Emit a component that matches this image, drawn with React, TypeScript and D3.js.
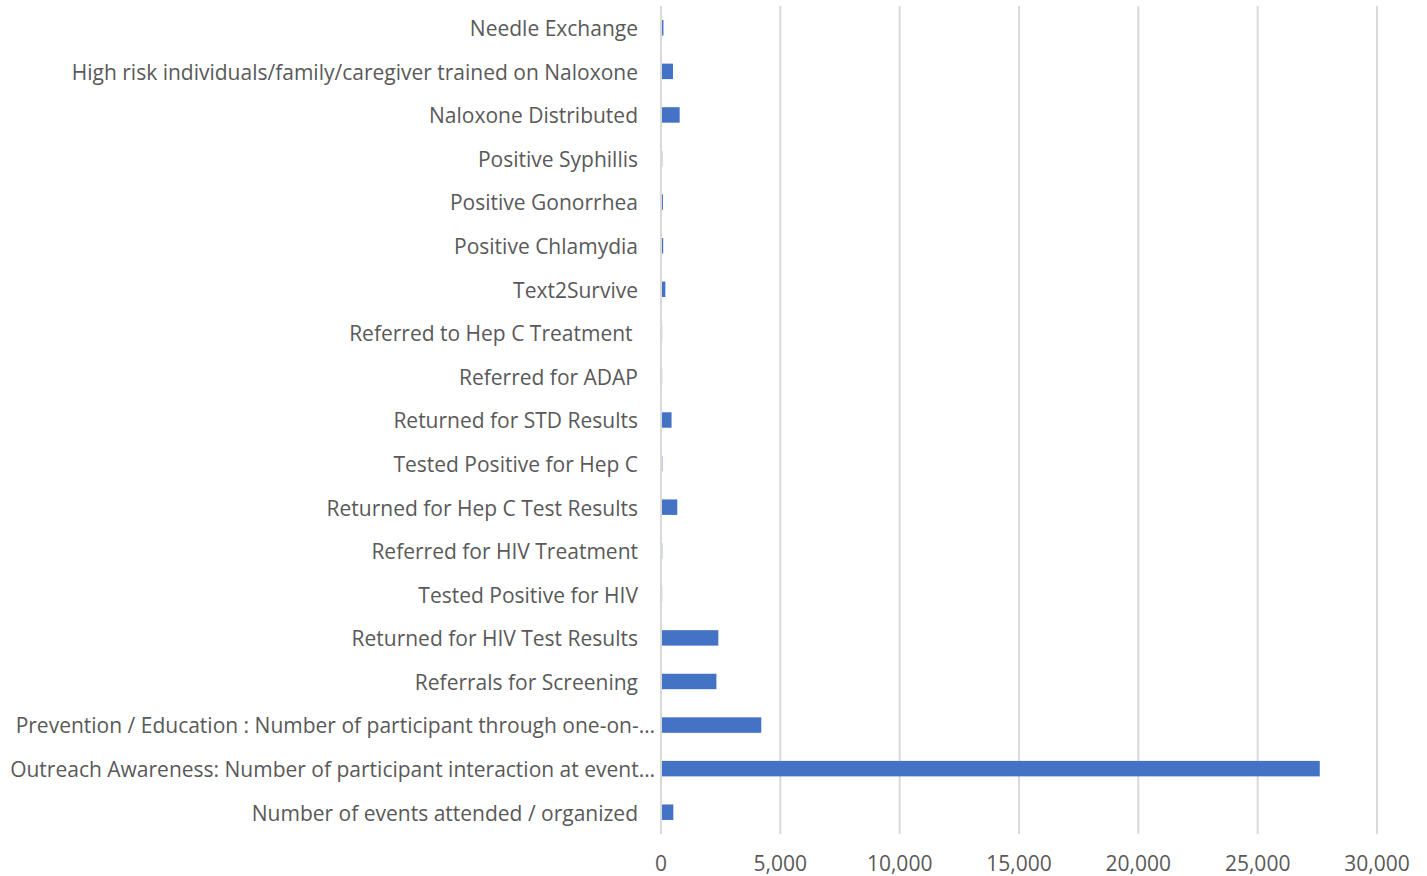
import React from "react";
import * as d3 from "d3";

const categories = [
  "Needle Exchange",
  "High risk individuals/family/caregiver trained on Naloxone",
  "Naloxone Distributed",
  "Positive Syphillis",
  "Positive Gonorrhea",
  "Positive Chlamydia",
  "Text2Survive",
  "Referred to Hep C Treatment ",
  "Referred for ADAP",
  "Returned for STD Results",
  "Tested Positive for Hep C",
  "Returned for Hep C Test Results",
  "Referred for HIV Treatment",
  "Tested Positive for HIV",
  "Returned for HIV Test Results",
  "Referrals for Screening",
  "Prevention / Education : Number of participant through one-on-…",
  "Outreach Awareness: Number of participant interaction at event…",
  "Number of events attended / organized",
];

const values = [
  60, 460, 740, 10, 40, 50, 140, 5, 5, 400, 15, 640, 10, 5, 2360, 2280, 4160, 27560, 475,
];

const xTicks = [0, 5000, 10000, 15000, 20000, 25000, 30000];

const W = 1427;
const H = 876;
const margin = { left: 661, right: 50, top: 6, bottom: 42 };

export default function App() {
  const x = d3
    .scaleLinear()
    .domain([0, 30000])
    .range([margin.left, W - margin.right]);
  const y = d3
    .scaleBand<string>()
    .domain(categories.map((_, i) => String(i)))
    .range([margin.top, H - margin.bottom])
    .paddingInner(0.645)
    .paddingOuter(0.3225);
  const fmt = d3.format(",");
  const font = "'Open Sans', 'Segoe UI', sans-serif";

  return (
    <svg
      width={W}
      height={H}
      style={{ position: "absolute", left: 0, top: 0, background: "#fff" }}
    >
      {xTicks.map((t) => (
        <line
          key={"g" + t}
          x1={x(t)}
          x2={x(t)}
          y1={margin.top}
          y2={H - margin.bottom}
          stroke="#d9d9d9"
          strokeWidth={2}
        />
      ))}
      {values.map((v, i) => (
        <rect
          key={"b" + i}
          x={x(0) + 1}
          y={y(String(i))!}
          width={Math.max(0, x(v) - x(0))}
          height={y.bandwidth()}
          fill="#4472C4"
        />
      ))}
      {categories.map((c, i) => (
        <text
          key={"l" + i}
          x={c.endsWith("…") ? 655 : 638}
          y={y(String(i))! + y.bandwidth() / 2 + 1}
          dy="0.35em"
          textAnchor="end"
          fontFamily={font}
          fontSize={21}
          fill="#595959"
          style={{ whiteSpace: "pre" }}
        >
          {c}
        </text>
      ))}
      {xTicks.map((t) => (
        <text
          key={"t" + t}
          x={x(t)}
          y={864}
          dy="0.35em"
          textAnchor="middle"
          fontFamily={font}
          fontSize={21}
          fill="#595959"
        >
          {fmt(t)}
        </text>
      ))}
    </svg>
  );
}
